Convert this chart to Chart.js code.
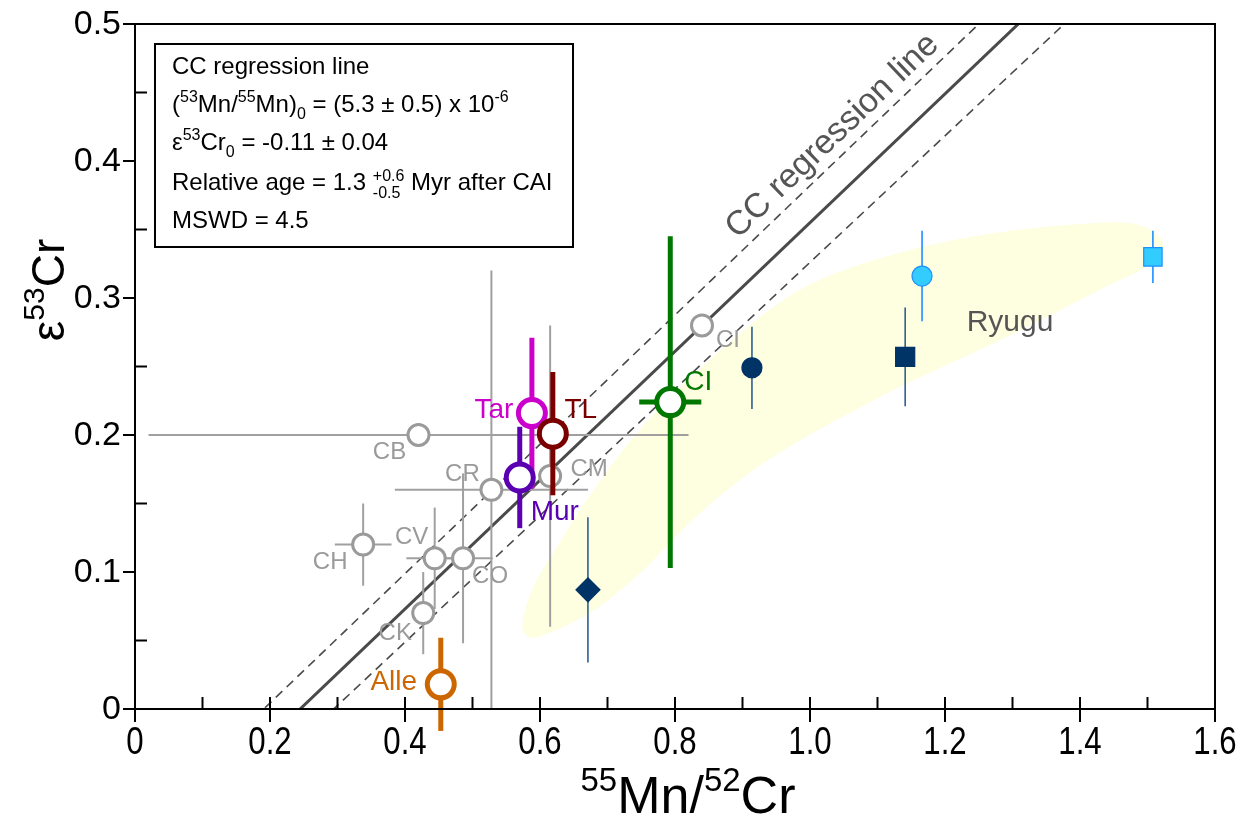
<!DOCTYPE html>
<html>
<head>
<meta charset="utf-8">
<script src="https://cdn.jsdelivr.net/npm/chart.js@4.4.1/dist/chart.umd.min.js"></script>
<style>
  html, body { margin: 0; padding: 0; background: #ffffff; }
  #wrap { width: 1245px; height: 825px; }
</style>
</head>
<body>
<div id="wrap"><canvas id="chart" width="1245" height="825"></canvas></div>
<script>
// ---- Carbonaceous chondrite groups (literature values) ----
const ccGroups   = ['CB', 'CR', 'CM', 'CI', 'CH', 'CV', 'CO', 'CK'];
const ccMnCr     = [0.42, 0.528, 0.615, 0.84, 0.338, 0.444, 0.486, 0.427];
const ccEps      = [0.20, 0.16, 0.17, 0.28, 0.12, 0.11, 0.11, 0.07];
const ccMnCrErr  = [0.40, 0.143, 0, 0, 0.042, 0.042, 0.044, 0];
const ccEpsErr   = [0, 0.16, 0.11, 0, 0.03, 0.037, 0.062, 0.03];

// ---- Individual meteorites measured here ----
const sampleNames    = ['Alle', 'Mur', 'Tar', 'TL', 'CI'];
const sampleMnCr     = [0.453, 0.570, 0.588, 0.619, 0.793];
const sampleEps      = [0.018, 0.169, 0.216, 0.201, 0.224];
const sampleMnCrErr  = [0, 0, 0, 0, 0.046];
const sampleEpsErr   = [0.034, 0.037, 0.055, 0.045, 0.121];

// ---- Ryugu samples ----
const ryuguMnCr   = [0.671, 0.914, 1.141, 1.166, 1.508];
const ryuguEps    = [0.087, 0.249, 0.257, 0.316, 0.330];
const ryuguEpsErr = [0.053, 0.030, 0.036, 0.033, 0.019];

// Ryugu compositional field outline (55Mn/52Cr, e53Cr)
const ryuguFieldX = [0.575, 0.590, 0.625, 0.670, 0.748, 0.852, 0.985, 1.133, 1.281, 1.430, 1.489, 1.519,
                     1.521, 1.496, 1.430, 1.281, 1.133, 0.985, 0.896, 0.822, 0.748, 0.674, 0.600, 0.578];
const ryuguFieldY = [0.065, 0.089, 0.118, 0.153, 0.204, 0.255, 0.306, 0.333, 0.348, 0.355, 0.353, 0.344,
                     0.334, 0.322, 0.306, 0.269, 0.235, 0.196, 0.167, 0.136, 0.099, 0.070, 0.053, 0.055];

// ---- CC regression line and its error envelope (slope, intercept) ----
const ccRegression = [0.470, -0.115];
const ccEnvelopeUpper = [0.472, -0.090];
const ccEnvelopeLower = [0.462, -0.136];

// ---- Axis ticks ----
const xTickValues = [0, 0.2, 0.4, 0.6, 0.8, 1.0, 1.2, 1.4, 1.6];
const xTickLabels = ['0', '0.2', '0.4', '0.6', '0.8', '1.0', '1.2', '1.4', '1.6'];
const yTickValues = [0, 0.1, 0.2, 0.3, 0.4, 0.5];
const yTickLabels = ['0', '0.1', '0.2', '0.3', '0.4', '0.5'];

// ---- Styling ----
const FONT = '"Liberation Sans", Arial, Helvetica, sans-serif';
const GRAY = '#9a9a9a';
const sampleColors = ['#cc6600', '#5a00b0', '#cc00cc', '#7a0000', '#007800'];
const ryuguFill   = ['#003366', '#003366', '#003366', '#33ccff', '#33ccff'];
const ryuguStroke = ['#003366', '#003366', '#003366', '#1e8fff', '#1e8fff'];
const ryuguErrCol = ['#2f5f8f', '#2f5f8f', '#2f5f8f', '#1e8fff', '#1e8fff'];
const ryuguStyle  = ['rectRot', 'circle', 'rect', 'circle', 'rect'];
const ryuguRadius = [12, 10, 13.5, 10, 13];

// label offsets (px) from each marker
const labelOffset = {
  CB: [-29, 17], CR: [-29, -15], CM: [39, -7], CI: [26, 15], CH: [-33, 18],
  CV: [-23, -21], CO: [27, 18], CK: [-28, 20],
  Alle: [-47, -2], Mur: [35, 35], Tar: [-38, -3], TL: [28, -23], CIs: [28, -20]
};

const toPoints = (xs, ys) => xs.map((x, i) => ({ x: x, y: ys[i] }));
const linePoints = (p) => [{ x: 0, y: p[1] }, { x: 1.6, y: p[1] + p[0] * 1.6 }];

// Ryugu field, error bars, axes frame, annotations
const decorations = {
  id: 'decorations',
  beforeDatasetsDraw(chart) {
    const { ctx, scales: { x, y } } = chart;
    const pts = ryuguFieldX.map((v, i) => [x.getPixelForValue(v), y.getPixelForValue(ryuguFieldY[i])]);
    const n = pts.length;
    ctx.save();
    ctx.beginPath();
    ctx.moveTo(pts[0][0], pts[0][1]);
    for (let i = 0; i < n; i++) {
      const p0 = pts[(i - 1 + n) % n], p1 = pts[i], p2 = pts[(i + 1) % n], p3 = pts[(i + 2) % n];
      ctx.bezierCurveTo(
        p1[0] + (p2[0] - p0[0]) / 6, p1[1] + (p2[1] - p0[1]) / 6,
        p2[0] - (p3[0] - p1[0]) / 6, p2[1] - (p3[1] - p1[1]) / 6,
        p2[0], p2[1]);
    }
    ctx.closePath();
    ctx.fillStyle = '#fefee0';
    ctx.fill();
    ctx.restore();
  },
  beforeDatasetDraw(chart, args) {
    const ds = chart.data.datasets[args.index];
    if (!ds.errY && !ds.errX) return;
    const { ctx, scales: { x, y } } = chart;
    ctx.save();
    ctx.lineCap = 'butt';
    ds.data.forEach((p, i) => {
      const col = Array.isArray(ds.errColor) ? ds.errColor[i] : ds.errColor;
      ctx.strokeStyle = col;
      ctx.lineWidth = ds.errWidth;
      const px = x.getPixelForValue(p.x), py = y.getPixelForValue(p.y);
      if (ds.errY && ds.errY[i] > 0) {
        ctx.beginPath();
        ctx.moveTo(px, y.getPixelForValue(p.y - ds.errY[i]));
        ctx.lineTo(px, y.getPixelForValue(p.y + ds.errY[i]));
        ctx.stroke();
      }
      if (ds.errX && ds.errX[i] > 0) {
        ctx.beginPath();
        ctx.moveTo(x.getPixelForValue(p.x - ds.errX[i]), py);
        ctx.lineTo(x.getPixelForValue(p.x + ds.errX[i]), py);
        ctx.stroke();
      }
    });
    ctx.restore();
  },
  afterDatasetsDraw(chart) {
    const { ctx, chartArea: a, scales: { x, y } } = chart;
    ctx.save();
    // point labels
    ctx.textAlign = 'center';
    ctx.textBaseline = 'middle';
    ctx.font = '24px ' + FONT;
    ctx.fillStyle = GRAY;
    ccGroups.forEach((g, i) => {
      const o = labelOffset[g];
      ctx.fillText(g, x.getPixelForValue(ccMnCr[i]) + o[0], y.getPixelForValue(ccEps[i]) + o[1]);
    });
    ctx.font = '28px ' + FONT;
    sampleNames.forEach((s, i) => {
      const o = labelOffset[s === 'CI' ? 'CIs' : s];
      ctx.fillStyle = sampleColors[i];
      ctx.fillText(s, x.getPixelForValue(sampleMnCr[i]) + o[0], y.getPixelForValue(sampleEps[i]) + o[1]);
    });

    // frame
    ctx.strokeStyle = '#000';
    ctx.lineWidth = 2;
    ctx.strokeRect(a.left, a.top, a.right - a.left, a.bottom - a.top);

    // x ticks: majors cross the axis, minors point inward
    for (let k = 0; k <= 16; k++) {
      const px = x.getPixelForValue(k / 10);
      ctx.beginPath();
      if (k % 2 === 0) { ctx.moveTo(px, a.bottom - 12); ctx.lineTo(px, a.bottom + 13); }
      else { ctx.moveTo(px, a.bottom - 12); ctx.lineTo(px, a.bottom); }
      ctx.stroke();
    }
    // y ticks: majors outward, minors inward
    for (let k = 0; k <= 10; k++) {
      const py = y.getPixelForValue(k / 20);
      ctx.beginPath();
      if (k % 2 === 0) { ctx.moveTo(a.left - 12, py); ctx.lineTo(a.left, py); }
      else { ctx.moveTo(a.left, py); ctx.lineTo(a.left + 12, py); }
      ctx.stroke();
    }

    // tick labels
    ctx.fillStyle = '#000';
    ctx.textBaseline = 'middle';
    xTickValues.forEach((v, i) => {
      ctx.save();
      ctx.translate(x.getPixelForValue(v), a.bottom + 34);
      ctx.scale(0.8, 1);
      ctx.textAlign = 'center';
      ctx.font = '39px ' + FONT;
      ctx.fillText(xTickLabels[i], 0, 0);
      ctx.restore();
    });
    ctx.textAlign = 'right';
    ctx.font = '34px ' + FONT;
    yTickValues.forEach((v, i) => {
      ctx.fillText(yTickLabels[i], a.left - 14, y.getPixelForValue(v) + 1);
    });
    ctx.restore();
  },
  afterDraw(chart) {
    const { ctx, scales: { x, y } } = chart;
    ctx.save();
    ctx.fillStyle = '#000';
    ctx.textBaseline = 'alphabetic';

    // rich text helper: parts of [text, size, dy]
    const drawParts = (parts, sx, sy) => {
      let cx = sx;
      parts.forEach(([t, size, dy]) => {
        ctx.font = size + 'px ' + FONT;
        ctx.fillText(t, cx, sy + (dy || 0));
        cx += ctx.measureText(t).width;
      });
      return cx;
    };
    const partsWidth = (parts) => parts.reduce((w, [t, size]) => {
      ctx.font = size + 'px ' + FONT; return w + ctx.measureText(t).width; }, 0);

    // x axis title
    ctx.textAlign = 'left';
    const xt = [['55', 33, -22], ['Mn/', 52, 0], ['52', 33, -22], ['Cr', 52, 0]];
    drawParts(xt, 688 - partsWidth(xt) / 2, 813);

    // y axis title
    const yt = [['\u03b5', 46, 0], ['53', 30, -20], ['Cr', 46, 0]];
    ctx.save();
    ctx.translate(64, 290);
    ctx.rotate(-Math.PI / 2);
    drawParts(yt, -partsWidth(yt) / 2, 0);
    ctx.restore();

    // regression statistics box
    ctx.fillStyle = '#ffffff';
    ctx.fillRect(155, 44, 418, 203);
    ctx.strokeStyle = '#000';
    ctx.lineWidth = 2;
    ctx.strokeRect(155, 44, 418, 203);
    ctx.fillStyle = '#000';
    const bx = 172;
    drawParts([['CC regression line', 24, 0]], bx, 74);
    drawParts([['(', 24, 0], ['53', 16, -10], ['Mn/', 24, 0], ['55', 16, -10], ['Mn)', 24, 0], ['0', 16, 7],
               [' = (5.3 \u00b1 0.5) x 10', 24, 0], ['-6', 16, -10]], bx, 112);
    drawParts([['\u03b5', 24, 0], ['53', 16, -10], ['Cr', 24, 0], ['0', 16, 7], [' = -0.11 \u00b1 0.04', 24, 0]], bx, 150);
    const ax = drawParts([['Relative age = 1.3 ', 24, 0]], bx, 190);
    ctx.font = '16px ' + FONT;
    ctx.fillText('+0.6', ax, 181);
    ctx.fillText('-0.5', ax, 198);
    const ax2 = ax + ctx.measureText('+0.6').width;
    drawParts([[' Myr after CAI', 24, 0]], ax2, 190);
    drawParts([['MSWD = 4.5', 24, 0]], bx, 228);

    // in-plot annotations
    ctx.fillStyle = '#555555';
    ctx.font = '30px ' + FONT;
    ctx.textAlign = 'center';
    ctx.fillText('Ryugu', 1010, 331);
    const ang = Math.atan2(
      y.getPixelForValue(ccRegression[1] + ccRegression[0] * 1.2) - y.getPixelForValue(ccRegression[1] + ccRegression[0] * 0.8),
      x.getPixelForValue(1.2) - x.getPixelForValue(0.8));
    ctx.save();
    ctx.translate(839, 143);
    ctx.rotate(ang);
    ctx.font = '34px ' + FONT;
    ctx.fillText('CC regression line', 0, 0);
    ctx.restore();
    ctx.restore();
  }
};

const chart = new Chart(document.getElementById('chart'), {
  type: 'scatter',
  data: {
    datasets: [
      {
        label: 'samples', order: 1,
        data: toPoints(sampleMnCr, sampleEps),
        errX: sampleMnCrErr, errY: sampleEpsErr, errColor: sampleColors, errWidth: 5,
        pointStyle: 'circle', pointRadius: 13.5, pointBorderWidth: 5,
        pointBackgroundColor: '#ffffff', pointBorderColor: sampleColors
      },
      {
        label: 'Ryugu', order: 2,
        data: toPoints(ryuguMnCr, ryuguEps),
        errY: ryuguEpsErr, errColor: ryuguErrCol, errWidth: 1.6,
        pointStyle: ryuguStyle, pointRadius: ryuguRadius, pointBorderWidth: 1.2,
        pointBackgroundColor: ryuguFill, pointBorderColor: ryuguStroke
      },
      {
        label: 'CC groups', order: 3,
        data: toPoints(ccMnCr, ccEps),
        errX: ccMnCrErr, errY: ccEpsErr, errColor: '#a0a0a0', errWidth: 2,
        pointStyle: 'circle', pointRadius: 10.5, pointBorderWidth: 3,
        pointBackgroundColor: '#ffffff', pointBorderColor: GRAY
      },
      {
        label: 'regression', order: 4, type: 'line',
        data: linePoints(ccRegression), showLine: true,
        borderColor: '#4a4a4a', borderWidth: 3, pointRadius: 0
      },
      {
        label: 'envelope upper', order: 5, type: 'line',
        data: linePoints(ccEnvelopeUpper), showLine: true,
        borderColor: '#4a4a4a', borderWidth: 1.6, borderDash: [9, 6], pointRadius: 0
      },
      {
        label: 'envelope lower', order: 5, type: 'line',
        data: linePoints(ccEnvelopeLower), showLine: true,
        borderColor: '#4a4a4a', borderWidth: 1.6, borderDash: [9, 6], pointRadius: 0
      }
    ]
  },
  options: {
    responsive: false,
    animation: false,
    devicePixelRatio: 1,
    layout: { padding: { top: 24, right: 30, left: 0, bottom: 0 } },
    plugins: { legend: { display: false }, tooltip: { enabled: false } },
    elements: { line: { tension: 0 } },
    scales: {
      x: {
        type: 'linear', min: 0, max: 1.6,
        afterFit(s) { s.height = 116; },
        grid: { display: false, drawTicks: false },
        border: { display: false },
        ticks: { display: false }
      },
      y: {
        type: 'linear', min: 0, max: 0.5,
        afterFit(s) { s.width = 135; },
        grid: { display: false, drawTicks: false },
        border: { display: false },
        ticks: { display: false }
      }
    }
  },
  plugins: [decorations]
});
</script>
</body>
</html>
